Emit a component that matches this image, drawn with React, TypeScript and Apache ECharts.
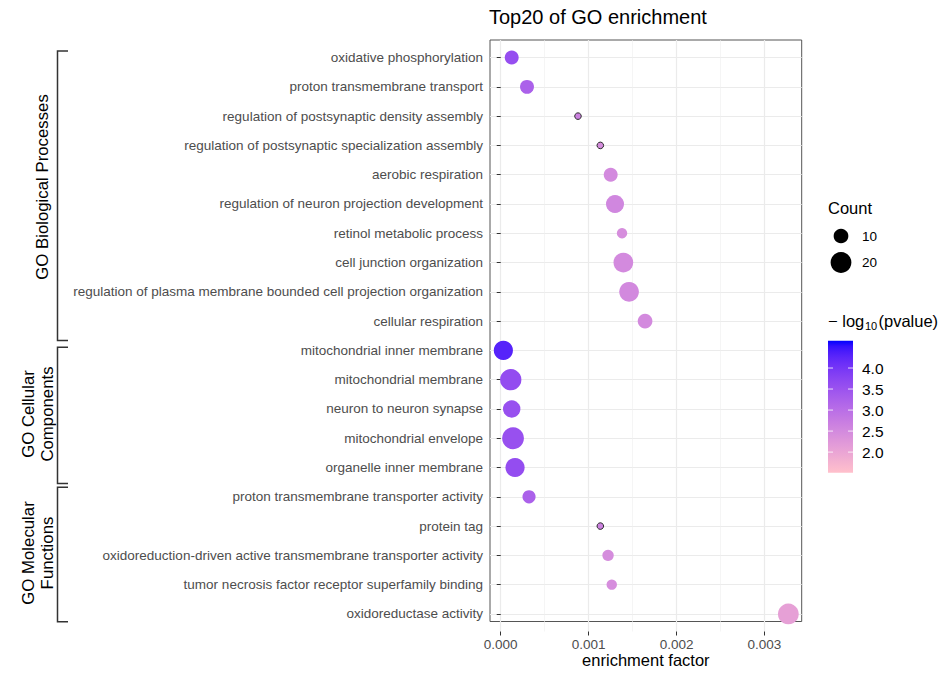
import { useEffect, useRef } from "react";
import * as echarts from "echarts";

// GO terms, top to bottom
const categories = [
  "oxidative phosphorylation",
  "proton transmembrane transport",
  "regulation of postsynaptic density assembly",
  "regulation of postsynaptic specialization assembly",
  "aerobic respiration",
  "regulation of neuron projection development",
  "retinol metabolic process",
  "cell junction organization",
  "regulation of plasma membrane bounded cell projection organization",
  "cellular respiration",
  "mitochondrial inner membrane",
  "mitochondrial membrane",
  "neuron to neuron synapse",
  "mitochondrial envelope",
  "organelle inner membrane",
  "proton transmembrane transporter activity",
  "protein tag",
  "oxidoreduction-driven active transmembrane transporter activity",
  "tumor necrosis factor receptor superfamily binding",
  "oxidoreductase activity",
];

const enrichmentFactor = [
  0.000125, 0.000299, 0.000879, 0.001133, 0.001251, 0.0013, 0.00138, 0.001395,
  0.00146, 0.001642, 0.00003, 0.000114, 0.000125, 0.00014, 0.000163, 0.000322,
  0.001133, 0.001221, 0.001263, 0.003272,
];

const negLog10P = [
  3.58, 3.24, 2.64, 2.45, 2.5, 2.55, 2.42, 2.5, 2.52, 2.5, 4.3, 3.62, 3.55, 3.55,
  3.6, 3.24, 2.64, 2.45, 2.42, 2.09,
];

const counts = [9, 9, 2, 2, 9, 15, 5, 18, 18, 10, 17, 21, 14, 22, 17, 8, 2, 6, 5, 20];

const xTicks = [0, 0.001, 0.002, 0.003];
const sizeLegendCounts = [10, 20];
const colorbarTicks = [2.0, 2.5, 3.0, 3.5, 4.0];
const colorRange = [1.51, 4.65];

const groupLabels = ["GO Biological Processes", "GO Cellular\nComponents", "GO Molecular\nFunctions"];

const FONT = "'Liberation Sans', Arial, Helvetica, sans-serif";

// ---- colour scale: pink -> blue interpolated in CIELAB ----
type RGB = [number, number, number];
const LOW: RGB = [255, 192, 203];
const HIGH: RGB = [0, 0, 255];

function toLin(c: number) {
  const v = c / 255;
  return v <= 0.04045 ? v / 12.92 : Math.pow((v + 0.055) / 1.055, 2.4);
}
function fromLin(c: number) {
  const v = c <= 0.0031308 ? 12.92 * c : 1.055 * Math.pow(c, 1 / 2.4) - 0.055;
  return Math.round(Math.min(1, Math.max(0, v)) * 255);
}
const XN = 0.95047, YN = 1, ZN = 1.08883;
function fLab(t: number) {
  return t > 0.008856 ? Math.cbrt(t) : 7.787 * t + 16 / 116;
}
function fInv(t: number) {
  return t > 0.206893 ? t * t * t : (t - 16 / 116) / 7.787;
}
function rgbToLab([r, g, b]: RGB): RGB {
  const R = toLin(r), G = toLin(g), B = toLin(b);
  const X = 0.4124 * R + 0.3576 * G + 0.1805 * B;
  const Y = 0.2126 * R + 0.7152 * G + 0.0722 * B;
  const Z = 0.0193 * R + 0.1192 * G + 0.9505 * B;
  const fx = fLab(X / XN), fy = fLab(Y / YN), fz = fLab(Z / ZN);
  return [116 * fy - 16, 500 * (fx - fy), 200 * (fy - fz)];
}
function labToHex([L, a, b]: RGB) {
  const fy = (L + 16) / 116;
  const fx = fy + a / 500;
  const fz = fy - b / 200;
  const X = XN * fInv(fx), Y = YN * fInv(fy), Z = ZN * fInv(fz);
  const R = 3.2406 * X - 1.5372 * Y - 0.4986 * Z;
  const G = -0.9689 * X + 1.8758 * Y + 0.0415 * Z;
  const B = 0.0557 * X - 0.204 * Y + 1.057 * Z;
  const h = (n: number) => n.toString(16).padStart(2, "0");
  return "#" + h(fromLin(R)) + h(fromLin(G)) + h(fromLin(B));
}
const labLow = rgbToLab(LOW);
const labHigh = rgbToLab(HIGH);
const STOPS = 24;
const scaleColors: string[] = Array.from({ length: STOPS + 1 }, (_, i) => {
  const t = i / STOPS;
  return labToHex([
    labLow[0] + (labHigh[0] - labLow[0]) * t,
    labLow[1] + (labHigh[1] - labLow[1]) * t,
    labLow[2] + (labHigh[2] - labLow[2]) * t,
  ]);
});

const pointSize = (n: number) => 4.65 * Math.sqrt(n);

// ---- layout ----
const panel = { left: 490, top: 40, width: 311.7, height: 591.5 };
const xMin = -0.000122;
const xMax = 0.003424;

export default function App() {
  const ref = useRef<HTMLDivElement>(null);

  useEffect(() => {
    if (!ref.current) return;
    const chart = echarts.init(ref.current, undefined, { renderer: "svg" });

    const span = xMax - xMin;
    const tickLeft = panel.left + ((xTicks[0] - xMin) / span) * panel.width;
    const tickWidth = ((xTicks[xTicks.length - 1] - xTicks[0]) / span) * panel.width;
    const rowStep = panel.height / (categories.length - 1 + 1.2);
    const dataTop = panel.top + 0.6 * rowStep;
    const dataHeight = (categories.length - 1) * rowStep;

    const data = categories.map((_, i) => {
      const item: any = { value: [enrichmentFactor[i], i, negLog10P[i], counts[i]] };
      if (counts[i] <= 2) item.itemStyle = { borderColor: "#2a2a2a", borderWidth: 1 };
      return item;
    });

    // colour bar legend
    const cb = { x: 828, y: 340.7, w: 25, h: 132 };
    const cbY = (v: number) => cb.y + cb.h - ((v - colorRange[0]) / (colorRange[1] - colorRange[0])) * cb.h;
    const colorbar: any[] = [
      {
        type: "rect",
        shape: { x: cb.x, y: cb.y, width: cb.w, height: cb.h },
        style: {
          fill: {
            type: "linear",
            x: 0, y: 1, x2: 0, y2: 0,
            colorStops: scaleColors.map((c, i) => ({ offset: i / STOPS, color: c })),
          },
        },
      },
    ];
    colorbarTicks.forEach((v) => {
      const y = cbY(v);
      colorbar.push(
        { type: "line", shape: { x1: cb.x, y1: y, x2: cb.x + 5, y2: y }, style: { stroke: "rgba(255,255,255,0.8)", lineWidth: 1 } },
        { type: "line", shape: { x1: cb.x + cb.w - 5, y1: y, x2: cb.x + cb.w, y2: y }, style: { stroke: "rgba(255,255,255,0.8)", lineWidth: 1 } },
        {
          type: "text",
          x: 862, y,
          style: { text: v.toFixed(1), font: `15.5px ${FONT}`, fill: "#000", textVerticalAlign: "middle" },
        }
      );
    });

    // size legend
    const sizeLegend: any[] = [
      { type: "text", x: 828, y: 208, style: { text: "Count", font: `16.5px ${FONT}`, fill: "#000", textVerticalAlign: "middle" } },
    ];
    sizeLegendCounts.forEach((n, i) => {
      const y = 236 + i * 26.5;
      sizeLegend.push(
        { type: "circle", shape: { cx: 841, cy: y, r: pointSize(n) / 2 }, style: { fill: "#000" } },
        { type: "text", x: 862, y, style: { text: String(n), font: `13.5px ${FONT}`, fill: "#000", textVerticalAlign: "middle" } }
      );
    });

    const colorTitle: any[] = [
      { type: "text", x: 828, y: 321, style: { text: "\u2212 log", font: `16.5px ${FONT}`, fill: "#000", textVerticalAlign: "middle" } },
      { type: "text", x: 865, y: 326, style: { text: "10", font: `11px ${FONT}`, fill: "#000", textVerticalAlign: "middle" } },
      { type: "text", x: 878.5, y: 321, style: { text: "(pvalue)", font: `16.5px ${FONT}`, fill: "#000", textVerticalAlign: "middle" } },
    ];

    // facet-like brackets on the left
    const brackets = [
      [51, 340.5],
      [347.3, 483.5],
      [487.2, 621.7],
    ];
    const bracketX = 57.5;
    const bracketEls: any[] = [];
    brackets.forEach(([y0, y1]) => {
      bracketEls.push({
        type: "polyline",
        shape: { points: [[68, y0], [bracketX, y0], [bracketX, y1], [68, y1]] },
        style: { stroke: "#333", lineWidth: 1.5, fill: null },
      });
    });
    const labelPos = [
      [42, 187],
      [37.5, 414],
      [37.5, 553],
    ];
    groupLabels.forEach((t, i) => {
      bracketEls.push({
        type: "text",
        x: labelPos[i][0],
        y: labelPos[i][1],
        rotation: Math.PI / 2,
        style: {
          text: t,
          font: `16.8px ${FONT}`,
          fill: "#000",
          textAlign: "center",
          textVerticalAlign: "middle",
          lineHeight: 19,
        },
      });
    });

    const option: any = {
      animation: false,
      backgroundColor: "#fff",
      title: {
        text: "Top20 of GO enrichment",
        left: panel.left - 1,
        top: 7,
        padding: 0,
        textStyle: { fontSize: 20, fontWeight: "normal", color: "#000", fontFamily: FONT },
      },
      grid: [
        { left: panel.left, top: panel.top, width: panel.width, height: panel.height, show: true, borderColor: "#555", borderWidth: 1, backgroundColor: "transparent" },
        { left: tickLeft, top: panel.top, width: tickWidth, height: panel.height },
        { left: panel.left, top: dataTop, width: panel.width, height: dataHeight },
      ],
      xAxis: [
        {
          gridIndex: 0, type: "value", min: xMin, max: xMax,
          axisLine: { show: false }, axisTick: { show: false }, axisLabel: { show: false }, splitLine: { show: false },
          name: "enrichment factor", nameLocation: "middle", nameGap: 29.5,
          nameTextStyle: { fontSize: 16.5, color: "#000", fontFamily: FONT },
        },
        {
          gridIndex: 1, type: "value", min: xTicks[0], max: xTicks[xTicks.length - 1], interval: 0.001,
          axisLine: { show: false },
          axisTick: { show: true, length: 4, lineStyle: { color: "#333", width: 1 } },
          axisLabel: { color: "#4D4D4D", fontSize: 13.5, fontFamily: FONT, margin: 6, formatter: (v: number) => v.toFixed(3) },
          splitLine: { show: true, lineStyle: { color: "#EBEBEB", width: 1.2 } },
          minorTick: { show: false, splitNumber: 2 },
          minorSplitLine: { show: true, lineStyle: { color: "#EFEFEF", width: 0.6 } },
        },
        { gridIndex: 2, type: "value", min: xMin, max: xMax, show: false },
      ],
      yAxis: [
        { gridIndex: 0, type: "value", show: false },
        { gridIndex: 1, type: "value", show: false },
        {
          gridIndex: 2, type: "category", data: categories, inverse: true, boundaryGap: false,
          axisLine: { show: false },
          axisTick: { show: true, length: 4, interval: 0, lineStyle: { color: "#333", width: 1 } },
          axisLabel: { interval: 0, color: "#4D4D4D", fontSize: 13.5, fontFamily: FONT, margin: 7 },
          splitLine: { show: true, interval: 0, lineStyle: { color: "#EBEBEB", width: 1.2 } },
        },
      ],
      visualMap: {
        show: false,
        type: "continuous",
        seriesIndex: 0,
        dimension: 2,
        min: colorRange[0],
        max: colorRange[1],
        inRange: { color: scaleColors },
      },
      series: [
        {
          type: "scatter",
          xAxisIndex: 2,
          yAxisIndex: 2,
          clip: false,
          symbol: "circle",
          symbolSize: (v: number[]) => pointSize(v[3]),
          itemStyle: { opacity: 1 },
          data,
          z: 5,
        },
      ],
      graphic: [...bracketEls, ...sizeLegend, ...colorTitle, ...colorbar],
    };

    chart.setOption(option);
    return () => chart.dispose();
  }, []);

  return (
    <div
      ref={ref}
      style={{ position: "absolute", left: 0, top: 0, width: 945, height: 673, background: "#fff" }}
    />
  );
}
